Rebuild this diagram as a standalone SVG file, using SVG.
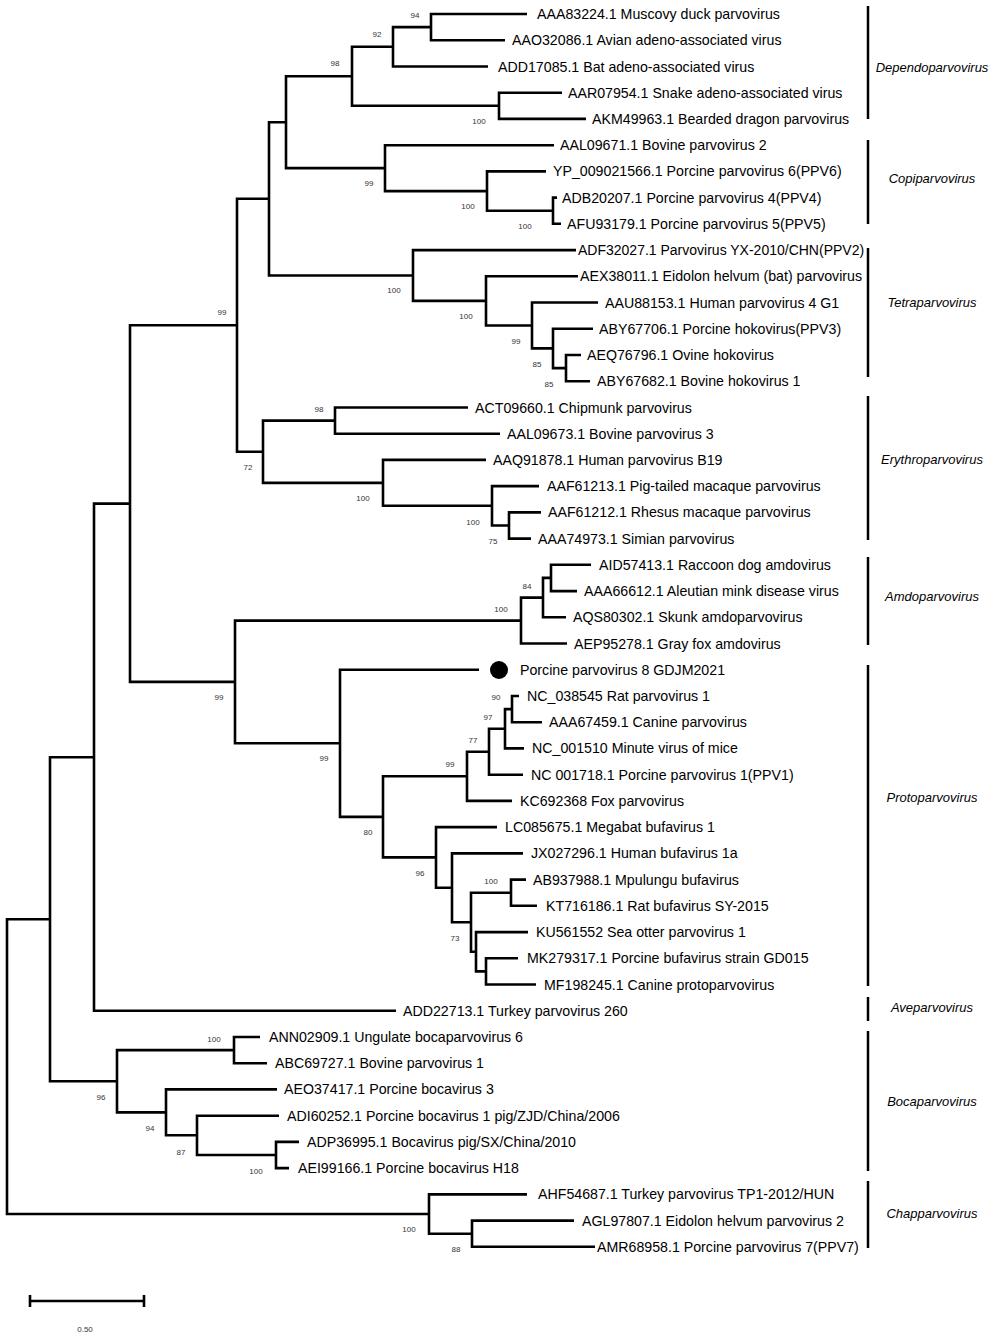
<svg xmlns="http://www.w3.org/2000/svg" width="993" height="1339" viewBox="0 0 993 1339">
<style>
.br{fill:none;stroke:#000;stroke-width:2.6;stroke-linejoin:miter;stroke-linecap:butt}
.lf{font-family:"Liberation Sans",Arial,sans-serif;font-size:14.2px;fill:#000}
.bs{font-family:"Liberation Sans",Arial,sans-serif;font-size:8px;fill:#333;text-anchor:middle}
.cl{font-family:"Liberation Sans",Arial,sans-serif;font-size:13px;font-style:italic;fill:#000;text-anchor:middle}
.cb{stroke:#000;stroke-width:2.5}
</style>
<rect width="993" height="1339" fill="#fff"/>
<g id="connectors">
<path class="br" d="M527 14 H431 V40.2 H505"/>
<path class="br" d="M431 27.1 H393 V66.5 H488"/>
<path class="br" d="M562 92.7 H499 V118.9 H586"/>
<path class="br" d="M393 46.8 H352 V105.8 H499"/>
<path class="br" d="M557 197.6 H553 V223.8 H561"/>
<path class="br" d="M546 171.4 H487 V210.7 H553"/>
<path class="br" d="M554 145.2 H385 V191.1 H487"/>
<path class="br" d="M352 76.3 H286 V168.1 H385"/>
<path class="br" d="M581 355 H566 V381.2 H590"/>
<path class="br" d="M593 328.8 H553 V368.1 H566"/>
<path class="br" d="M598 302.5 H532 V348.4 H553"/>
<path class="br" d="M578 276.3 H486 V325.5 H532"/>
<path class="br" d="M576 250.1 H413 V300.9 H486"/>
<path class="br" d="M286 122.2 H269 V275.5 H413"/>
<path class="br" d="M468 407.5 H335 V433.7 H500"/>
<path class="br" d="M541 512.4 H509 V538.6 H531"/>
<path class="br" d="M539 486.1 H492 V525.5 H509"/>
<path class="br" d="M486 459.9 H383 V505.8 H492"/>
<path class="br" d="M335 420.6 H263 V482.9 H383"/>
<path class="br" d="M269 198.8 H237 V451.7 H263"/>
<path class="br" d="M591 564.8 H551 V591.1 H577"/>
<path class="br" d="M551 577.9 H543 V617.3 H566"/>
<path class="br" d="M543 597.6 H521 V643.5 H567"/>
<path class="br" d="M519 696 H512 V722.2 H542"/>
<path class="br" d="M512 709.1 H505 V748.4 H524"/>
<path class="br" d="M505 728.8 H489 V774.7 H523"/>
<path class="br" d="M489 751.7 H467 V800.9 H512"/>
<path class="br" d="M526 879.6 H511 V905.8 H537"/>
<path class="br" d="M518 958.3 H486 V984.5 H536"/>
<path class="br" d="M528 932.1 H476 V971.4 H486"/>
<path class="br" d="M511 892.7 H471 V951.7 H476"/>
<path class="br" d="M523 853.4 H452 V922.2 H471"/>
<path class="br" d="M497 827.1 H436 V887.8 H452"/>
<path class="br" d="M467 776.3 H383 V857.4 H436"/>
<path class="br" d="M479 669.8 H340 V816.9 H383"/>
<path class="br" d="M521 620.6 H235 V743.3 H340"/>
<path class="br" d="M237 325.3 H130 V681.9 H235"/>
<path class="br" d="M130 503.6 H94 V1010.7 H396"/>
<path class="br" d="M260 1037 H234 V1063.2 H267"/>
<path class="br" d="M299 1141.9 H276 V1168.1 H289"/>
<path class="br" d="M279 1115.7 H197 V1155 H276"/>
<path class="br" d="M277 1089.4 H166 V1135.3 H197"/>
<path class="br" d="M234 1050.1 H117 V1112.4 H166"/>
<path class="br" d="M94 757.2 H50 V1081.2 H117"/>
<path class="br" d="M574 1220.6 H472 V1246.8 H595"/>
<path class="br" d="M527 1194.4 H429 V1233.7 H472"/>
<path class="br" d="M50 919.2 H7 V1214 H429"/>
</g>
<g id="bootstrap">
<text class="bs" x="415" y="18">94</text>
<text class="bs" x="377" y="37">92</text>
<text class="bs" x="335" y="66">98</text>
<text class="bs" x="479" y="124">100</text>
<text class="bs" x="369" y="186">99</text>
<text class="bs" x="468" y="209">100</text>
<text class="bs" x="525" y="229">100</text>
<text class="bs" x="394" y="293">100</text>
<text class="bs" x="466" y="319">100</text>
<text class="bs" x="516" y="344">99</text>
<text class="bs" x="537" y="367">85</text>
<text class="bs" x="549" y="387">85</text>
<text class="bs" x="222" y="315">99</text>
<text class="bs" x="319" y="412">98</text>
<text class="bs" x="248" y="470">72</text>
<text class="bs" x="363" y="501">100</text>
<text class="bs" x="473" y="525">100</text>
<text class="bs" x="493" y="544">75</text>
<text class="bs" x="527" y="589">84</text>
<text class="bs" x="501" y="612">100</text>
<text class="bs" x="219" y="700">99</text>
<text class="bs" x="496" y="700">90</text>
<text class="bs" x="488" y="720">97</text>
<text class="bs" x="473" y="743">77</text>
<text class="bs" x="450" y="767">99</text>
<text class="bs" x="324" y="761">99</text>
<text class="bs" x="368" y="835">80</text>
<text class="bs" x="420" y="876">96</text>
<text class="bs" x="491" y="884">100</text>
<text class="bs" x="455" y="941">73</text>
<text class="bs" x="214" y="1042">100</text>
<text class="bs" x="101" y="1100">96</text>
<text class="bs" x="150" y="1131">94</text>
<text class="bs" x="181" y="1155">87</text>
<text class="bs" x="256" y="1174">100</text>
<text class="bs" x="409" y="1232">100</text>
<text class="bs" x="456" y="1252">88</text>
</g>
<g id="leaf1"><text class="lf" x="537" y="19">AAA83224.1 Muscovy duck parvovirus</text></g>
<g id="leaf2"><text class="lf" x="512" y="45.2">AAO32086.1 Avian adeno-associated virus</text></g>
<g id="leaf3"><text class="lf" x="498" y="71.5">ADD17085.1 Bat adeno-associated virus</text></g>
<g id="leaf4"><text class="lf" x="568" y="97.7">AAR07954.1 Snake adeno-associated virus</text></g>
<g id="leaf5"><text class="lf" x="592" y="123.9">AKM49963.1 Bearded dragon parvovirus</text></g>
<g id="leaf6"><text class="lf" x="560" y="150.2">AAL09671.1 Bovine parvovirus 2</text></g>
<g id="leaf7"><text class="lf" x="553" y="176.4">YP_009021566.1 Porcine parvovirus 6(PPV6)</text></g>
<g id="leaf8"><text class="lf" x="562" y="202.6">ADB20207.1 Porcine parvovirus 4(PPV4)</text></g>
<g id="leaf9"><text class="lf" x="567" y="228.8">AFU93179.1 Porcine parvovirus 5(PPV5)</text></g>
<g id="leaf10"><text class="lf" x="578" y="255.1" style="font-size:14px">ADF32027.1 Parvovirus YX-2010/CHN(PPV2)</text></g>
<g id="leaf11"><text class="lf" x="580" y="281.3">AEX38011.1 Eidolon helvum (bat) parvovirus</text></g>
<g id="leaf12"><text class="lf" x="605" y="307.5">AAU88153.1 Human parvovirus 4 G1</text></g>
<g id="leaf13"><text class="lf" x="599" y="333.8">ABY67706.1 Porcine hokovirus(PPV3)</text></g>
<g id="leaf14"><text class="lf" x="587" y="360">AEQ76796.1 Ovine hokovirus</text></g>
<g id="leaf15"><text class="lf" x="597" y="386.2">ABY67682.1 Bovine hokovirus 1</text></g>
<g id="leaf16"><text class="lf" x="475" y="412.5">ACT09660.1 Chipmunk parvovirus</text></g>
<g id="leaf17"><text class="lf" x="507" y="438.7">AAL09673.1 Bovine parvovirus 3</text></g>
<g id="leaf18"><text class="lf" x="493" y="464.9">AAQ91878.1 Human parvovirus B19</text></g>
<g id="leaf19"><text class="lf" x="547" y="491.1">AAF61213.1 Pig-tailed macaque parvovirus</text></g>
<g id="leaf20"><text class="lf" x="548" y="517.4">AAF61212.1 Rhesus macaque parvovirus</text></g>
<g id="leaf21"><text class="lf" x="538" y="543.6">AAA74973.1 Simian parvovirus</text></g>
<g id="leaf22"><text class="lf" x="599" y="569.8">AID57413.1 Raccoon dog amdovirus</text></g>
<g id="leaf23"><text class="lf" x="584" y="596.1">AAA66612.1 Aleutian mink disease virus</text></g>
<g id="leaf24"><text class="lf" x="573" y="622.3">AQS80302.1 Skunk amdoparvovirus</text></g>
<g id="leaf25"><text class="lf" x="574" y="648.5">AEP95278.1 Gray fox amdovirus</text></g>
<g id="leaf26"><circle cx="499" cy="670" r="9" fill="#000"/><text class="lf" x="520" y="674.8">Porcine parvovirus 8 GDJM2021</text></g>
<g id="leaf27"><text class="lf" x="527" y="701">NC_038545 Rat parvovirus 1</text></g>
<g id="leaf28"><text class="lf" x="549" y="727.2">AAA67459.1 Canine parvovirus</text></g>
<g id="leaf29"><text class="lf" x="532" y="753.4">NC_001510 Minute virus of mice</text></g>
<g id="leaf30"><text class="lf" x="531" y="779.7">NC 001718.1 Porcine parvovirus 1(PPV1)</text></g>
<g id="leaf31"><text class="lf" x="520" y="805.9">KC692368 Fox parvovirus</text></g>
<g id="leaf32"><text class="lf" x="505" y="832.1">LC085675.1 Megabat bufavirus 1</text></g>
<g id="leaf33"><text class="lf" x="531" y="858.4">JX027296.1 Human bufavirus 1a</text></g>
<g id="leaf34"><text class="lf" x="533" y="884.6">AB937988.1 Mpulungu bufavirus</text></g>
<g id="leaf35"><text class="lf" x="546" y="910.8">KT716186.1 Rat bufavirus SY-2015</text></g>
<g id="leaf36"><text class="lf" x="536" y="937.1">KU561552 Sea otter parvovirus 1</text></g>
<g id="leaf37"><text class="lf" x="527" y="963.3">MK279317.1 Porcine bufavirus strain GD015</text></g>
<g id="leaf38"><text class="lf" x="544" y="989.5">MF198245.1 Canine protoparvovirus</text></g>
<g id="leaf39"><text class="lf" x="403" y="1015.7">ADD22713.1 Turkey parvovirus 260</text></g>
<g id="leaf40"><text class="lf" x="269" y="1042">ANN02909.1 Ungulate bocaparvovirus 6</text></g>
<g id="leaf41"><text class="lf" x="275" y="1068.2">ABC69727.1 Bovine parvovirus 1</text></g>
<g id="leaf42"><text class="lf" x="284" y="1094.4">AEO37417.1 Porcine bocavirus 3</text></g>
<g id="leaf43"><text class="lf" x="287" y="1120.7">ADI60252.1 Porcine bocavirus 1 pig/ZJD/China/2006</text></g>
<g id="leaf44"><text class="lf" x="307" y="1146.9">ADP36995.1 Bocavirus pig/SX/China/2010</text></g>
<g id="leaf45"><text class="lf" x="298" y="1173.1">AEI99166.1 Porcine bocavirus H18</text></g>
<g id="leaf46"><text class="lf" x="538" y="1199.4">AHF54687.1 Turkey parvovirus TP1-2012/HUN</text></g>
<g id="leaf47"><text class="lf" x="582" y="1225.6">AGL97807.1 Eidolon helvum parvovirus 2</text></g>
<g id="leaf48"><text class="lf" x="597" y="1251.8">AMR68958.1 Porcine parvovirus 7(PPV7)</text></g>
<g id="clade-dependo"><line class="cb" x1="868" y1="6" x2="868" y2="119"/><text class="cl" x="932" y="71.5">Dependoparvovirus</text></g>
<g id="clade-copi"><line class="cb" x1="868" y1="140" x2="868" y2="224"/><text class="cl" x="932" y="182.5">Copiparvovirus</text></g>
<g id="clade-tetra"><line class="cb" x1="868" y1="248" x2="868" y2="377"/><text class="cl" x="932" y="306.5">Tetraparvovirus</text></g>
<g id="clade-erythro"><line class="cb" x1="868" y1="396" x2="868" y2="540"/><text class="cl" x="932" y="463.5">Erythroparvovirus</text></g>
<g id="clade-amdo"><line class="cb" x1="868" y1="557" x2="868" y2="645"/><text class="cl" x="932" y="600.5">Amdoparvovirus</text></g>
<g id="clade-proto"><line class="cb" x1="868" y1="665" x2="868" y2="986"/><text class="cl" x="932" y="801.5">Protoparvovirus</text></g>
<g id="clade-ave"><line class="cb" x1="868" y1="997" x2="868" y2="1021"/><text class="cl" x="932" y="1011.5">Aveparvovirus</text></g>
<g id="clade-boca"><line class="cb" x1="868" y1="1031" x2="868" y2="1171"/><text class="cl" x="932" y="1105.5">Bocaparvovirus</text></g>
<g id="clade-chapp"><line class="cb" x1="868" y1="1181" x2="868" y2="1248"/><text class="cl" x="932" y="1217.5">Chapparvovirus</text></g>
<g id="scale">
<path class="br" d="M30 1301 H144 M30 1295 V1307 M144 1295 V1307"/>
<text class="bs" x="85" y="1332">0.50</text>
</g>
</svg>
